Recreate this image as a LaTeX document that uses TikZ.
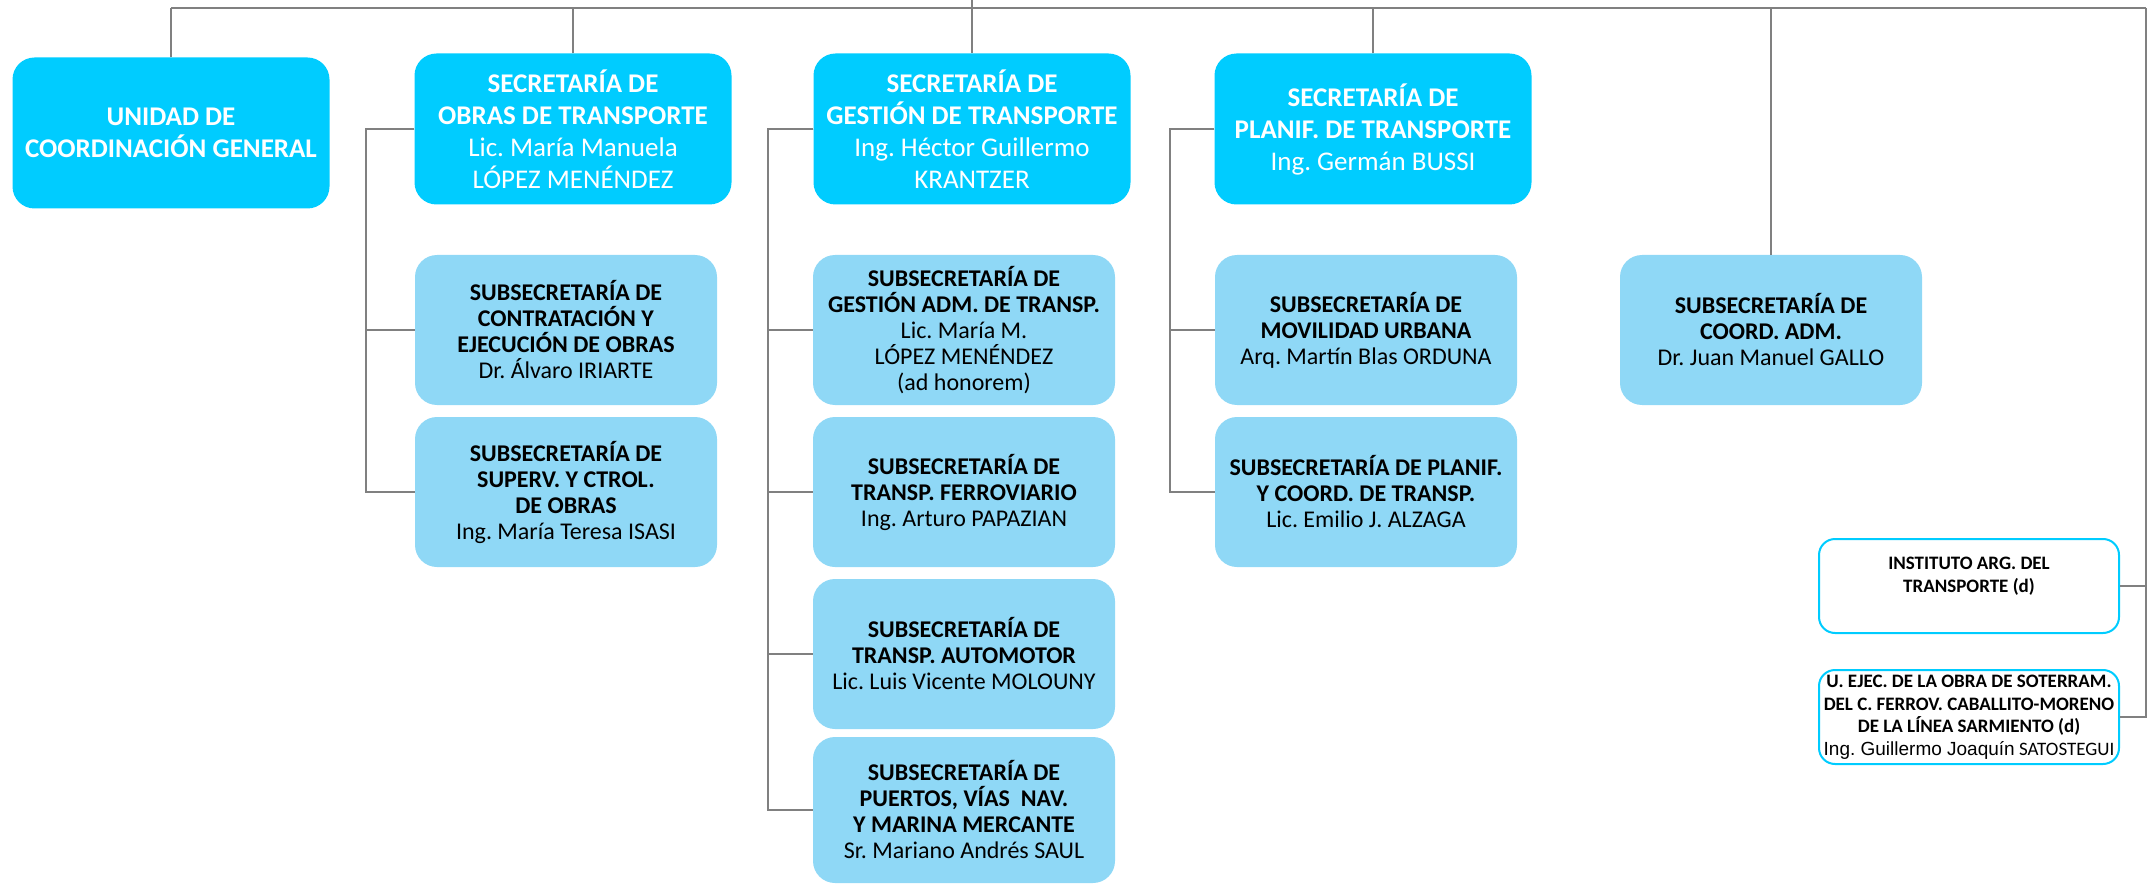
\documentclass[tikz,border=0pt]{standalone}
\usepackage{fontspec}
\setmainfont{Carlito}
\newfontfamily\arialfont{Liberation Sans}
\usetikzlibrary{positioning, calc}
\definecolor{secCyan}{HTML}{00CCFF}
\definecolor{subBlue}{HTML}{8FD8F6}
\definecolor{lineGray}{HTML}{808080}
\frenchspacing

\begin{document}
\begin{tikzpicture}[x=1pt, y=-1pt,
    box/.style={rectangle, rounded corners=22pt, align=center, inner sep=2pt},
    secbox/.style={box, fill=secCyan, text=white, minimum width=317pt,
                   minimum height=151pt, font=\fontsize{27}{32}\selectfont},
    subbox/.style={box, fill=subBlue, text=black, minimum width=302pt,
                   minimum height=150pt, font=\fontsize{24}{26}\selectfont},
    descbox/.style={box, rounded corners=16pt, draw=secCyan, line width=2pt,
                    fill=white, minimum width=300pt, minimum height=94pt,
                    inner sep=1pt, font=\fontsize{19}{22.5}\selectfont},
    link/.style={draw=lineGray, line width=2pt},
  ]
  \useasboundingbox (0,0) rectangle (2154,885);

  % ─── Secretarías ───
  \node[secbox] (unidad) at (171,133)
    {\textbf{UNIDAD DE}\\\textbf{COORDINACIÓN GENERAL}};
  \node[secbox] (secobras) at (573,129)
    {\textbf{SECRETARÍA DE}\\\textbf{OBRAS DE TRANSPORTE}\\Lic. María Manuela\\LÓPEZ MENÉNDEZ};
  \node[secbox] (secgest) at (972,129)
    {\textbf{SECRETARÍA DE}\\\textbf{GESTIÓN DE TRANSPORTE}\\Ing. Héctor Guillermo\\KRANTZER};
  \node[secbox] (secplan) at (1373,129)
    {\textbf{SECRETARÍA DE}\\\textbf{PLANIF. DE TRANSPORTE}\\Ing. Germán BUSSI};

  % ─── Subsecretarías: obras ───
  \node[subbox] (subcontr) at (566,330)
    {\textbf{SUBSECRETARÍA DE}\\\textbf{CONTRATACIÓN Y}\\\textbf{EJECUCIÓN DE OBRAS}\\Dr. Álvaro IRIARTE};
  \node[subbox] (subsuperv) at (566,492)
    {\textbf{SUBSECRETARÍA DE}\\\textbf{SUPERV. Y CTROL.}\\\textbf{DE OBRAS}\\Ing. María Teresa ISASI};

  % ─── Subsecretarías: gestión ───
  \node[subbox] (subadm) at (964,330)
    {\textbf{SUBSECRETARÍA DE}\\\textbf{GESTIÓN ADM. DE TRANSP.}\\Lic. María M.\\LÓPEZ MENÉNDEZ\\(ad honorem)};
  \node[subbox] (subferro) at (964,492)
    {\textbf{SUBSECRETARÍA DE}\\\textbf{TRANSP. FERROVIARIO}\\Ing. Arturo PAPAZIAN};
  \node[subbox] (subauto) at (964,654)
    {\textbf{SUBSECRETARÍA DE}\\\textbf{TRANSP. AUTOMOTOR}\\Lic. Luis Vicente MOLOUNY};
  \node[subbox, minimum height=146pt] (subpuertos) at (964,810)
    {\textbf{SUBSECRETARÍA DE}\\\textbf{PUERTOS, VÍAS~ NAV.}\\\textbf{Y MARINA MERCANTE}\\Sr. Mariano Andrés SAUL};

  % ─── Subsecretarías: planificación ───
  \node[subbox] (submovil) at (1366,330)
    {\textbf{SUBSECRETARÍA DE}\\\textbf{MOVILIDAD URBANA}\\Arq. Martín Blas ORDUNA};
  \node[subbox] (subplanif) at (1366,492)
    {\textbf{SUBSECRETARÍA DE PLANIF.}\\\textbf{Y COORD. DE TRANSP.}\\Lic. Emilio J. ALZAGA};
  \node[subbox] (subcoord) at (1771,330)
    {\textbf{SUBSECRETARÍA DE}\\\textbf{COORD. ADM.}\\Dr. Juan Manuel GALLO};

  % ─── Organismos descentralizados ───
  \node[descbox] (instituto) at (1969,586)
    {\textbf{INSTITUTO ARG. DEL}\\\textbf{TRANSPORTE (d)}\\\mbox{}};
  \node[descbox] (uejec) at (1969,717)
    {\textbf{U. EJEC. DE LA OBRA DE SOTERRAM.}\\\textbf{DEL C. FERROV. CABALLITO-MORENO}\\
     \textbf{DE LA LÍNEA SARMIENTO (d)}\\{\arialfont Ing. Guillermo Joaquín} SATOSTEGUI};

  % ─── Connectors ───
  \coordinate (busL) at (171,8);
  \coordinate (busR) at (2146,8);
  \coordinate (top) at (972,0);
  \draw[link] (busL) -- (busR);
  \draw[link] (top) -- (secgest.north);
  \foreach \n in {unidad, secobras, secplan, subcoord}
    \draw[link] (\n.north) -- (\n.north |- busL);
  \draw[link] (busR) |- (uejec.east);
  \draw[link] (instituto.east) -- (instituto.east -| busR);

  \coordinate (obrasbus) at (366,129);
  \coordinate (gestbus) at (768,129);
  \coordinate (planbus) at (1170,129);
  \foreach \s in {subcontr, subsuperv}
    \draw[link] (secobras.west) -- (obrasbus) |- (\s.west);
  \foreach \s in {subadm, subferro, subauto, subpuertos}
    \draw[link] (secgest.west) -- (gestbus) |- (\s.west);
  \foreach \s in {submovil, subplanif}
    \draw[link] (secplan.west) -- (planbus) |- (\s.west);
\end{tikzpicture}
\end{document}
